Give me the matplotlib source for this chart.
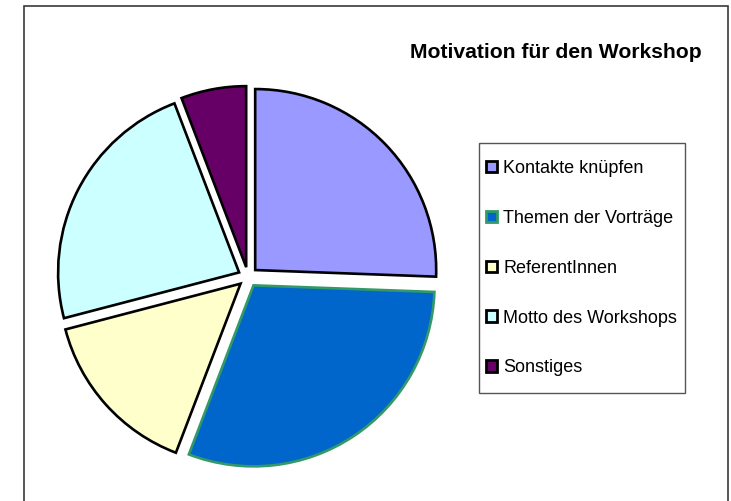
import matplotlib
matplotlib.use("Agg")
import matplotlib.pyplot as plt
from matplotlib.patches import Rectangle

plt.rcParams['font.family'] = ['Liberation Sans', 'DejaVu Sans']

labels = ['Kontakte knüpfen', 'Themen der Vorträge', 'ReferentInnen',
          'Motto des Workshops', 'Sonstiges']
values = [22, 26, 13, 20, 5]
colors = ['#9999FF', '#0066CC', '#FFFFCC', '#CCFFFF', '#660066']
edges = ['black', '#339966', 'black', 'black', 'black']
title = 'Motivation für den Workshop'

W, H = 731, 501
fig = plt.figure(figsize=(W / 100, H / 100), dpi=100)
ax = fig.add_axes([0, 0, 1, 1])

# outer chart frame (bottom edge is cut off in the reference)
ax.add_patch(Rectangle((23.5, -20), 728 - 23.5, H - 5.5 + 20, fill=False,
                       edgecolor='#3a3a3a', linewidth=1.2))

# explode is in data units here (pixels)
wedges, _ = ax.pie(values, colors=colors, startangle=90, counterclock=False,
                   radius=181, center=(248, H - 277),
                   explode=[10] * len(values), frame=True)
for w, ec in zip(wedges, edges):
    w.set_edgecolor(ec)
    w.set_linewidth(1.9)
ax.set_xlim(0, W)
ax.set_ylim(0, H)
ax.set_aspect('equal')
ax.axis('off')

ax.text(556, H - 52, title, ha='center', va='center', fontsize=15.2,
        fontweight='bold')

# legend box
ax.add_patch(Rectangle((479, H - 393), 685 - 479, 393 - 143, fill=False,
                       edgecolor='#555555', linewidth=1.0))
leg = fig.legend(wedges, labels, loc='upper left',
                 bbox_to_anchor=(486 / W, 1 - 160 / H), frameon=False,
                 fontsize=13, borderpad=0, borderaxespad=0,
                 handlelength=0.6, handleheight=0.6, handletextpad=0.35,
                 labelspacing=1.82)
for h in leg.legend_handles:
    h.set_linewidth(2)

fig.savefig('out.png', dpi=100)
